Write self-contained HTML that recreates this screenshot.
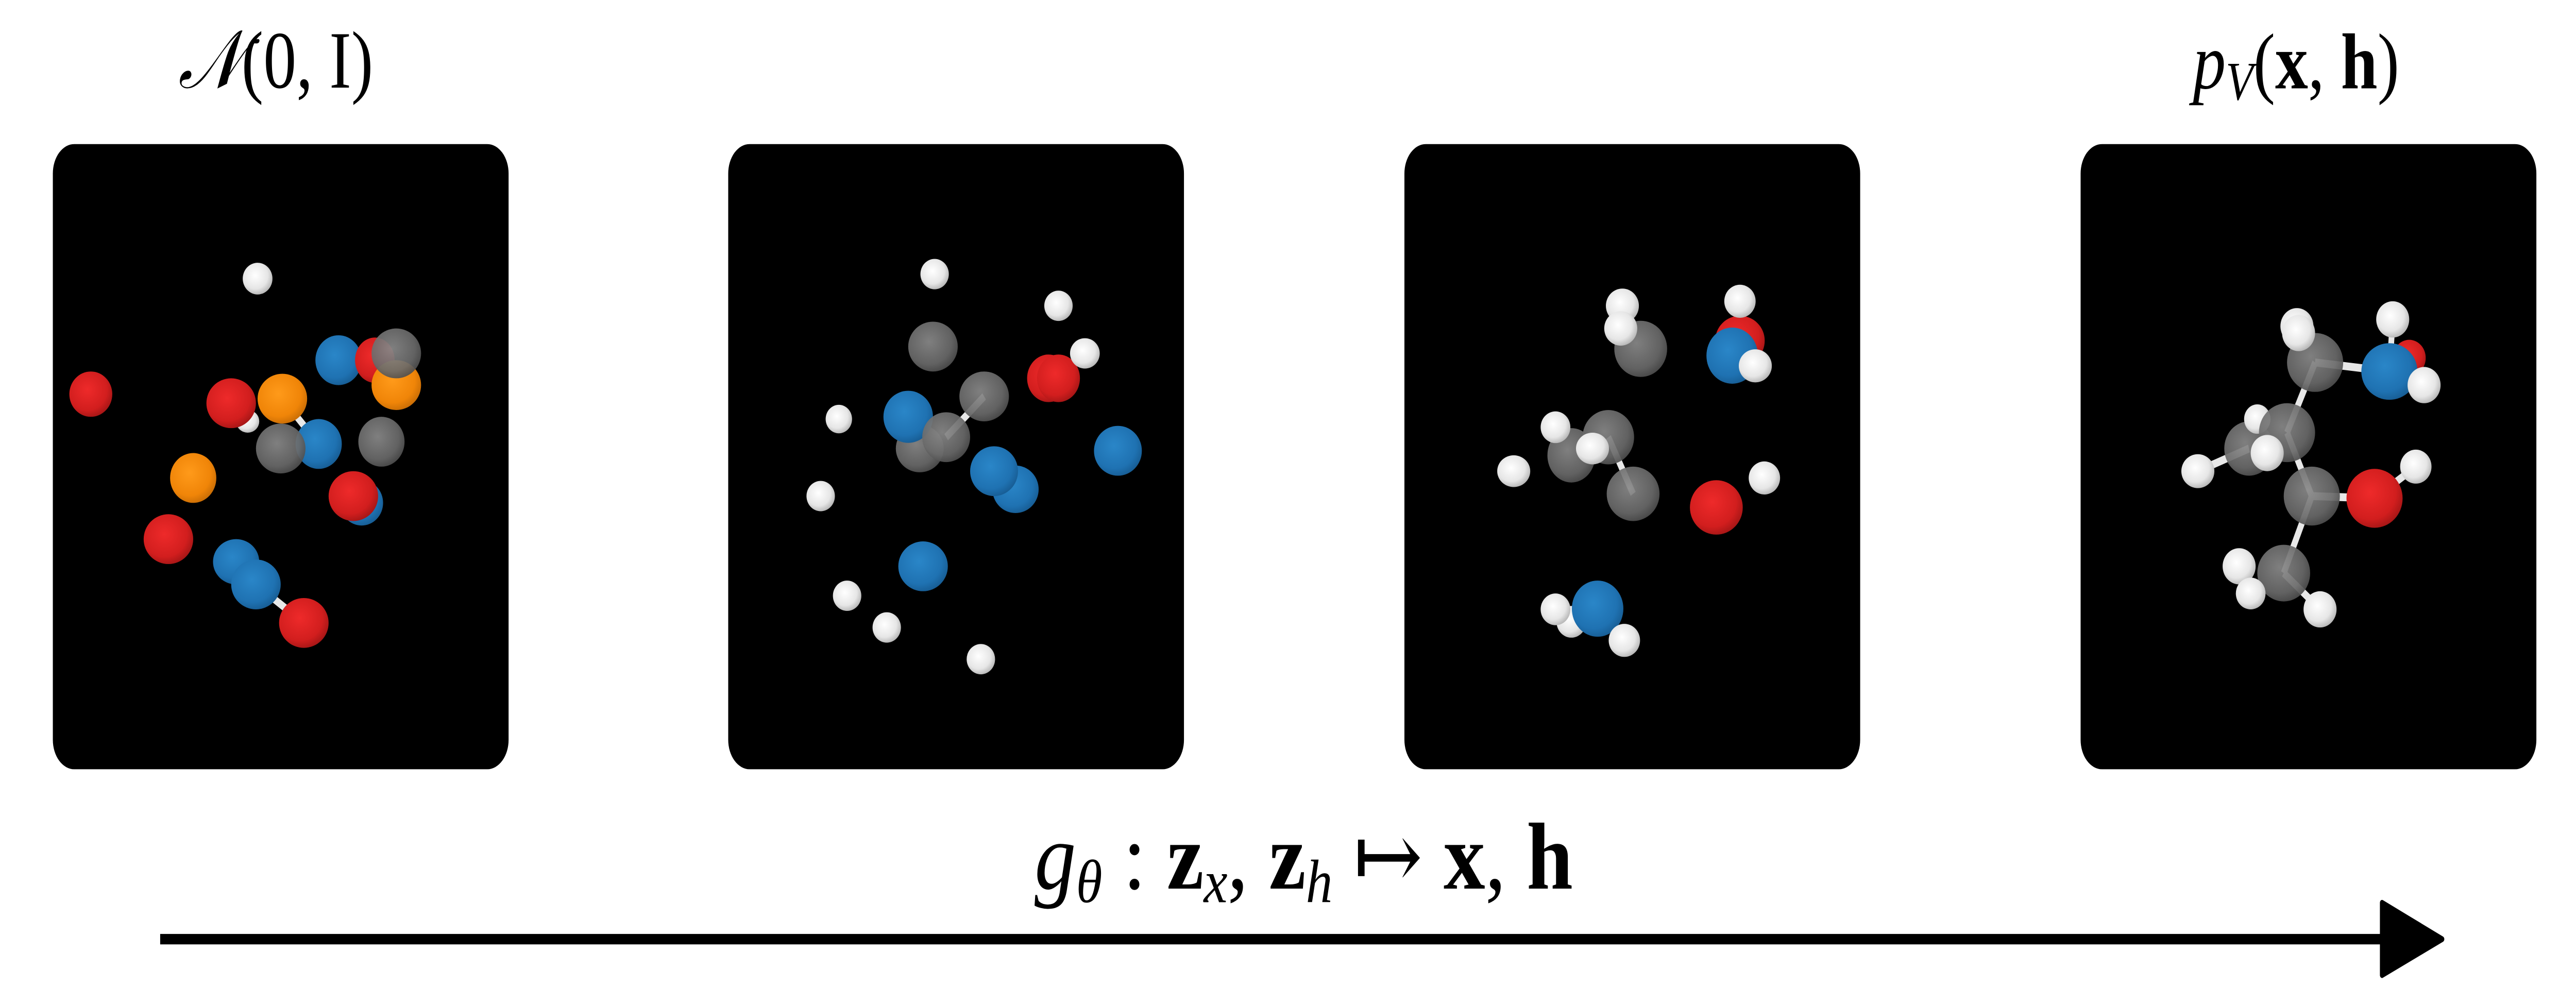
<!DOCTYPE html>
<html><head><meta charset="utf-8">
<style>
html,body{margin:0;padding:0;background:#fff;width:100%;height:100%;overflow:hidden;}
svg{display:block;width:100vw;height:100vh;}
text{font-family:"Liberation Serif","DejaVu Serif",serif;fill:#000;}
</style></head>
<body>
<svg id="fig" viewBox="0 0 1560 436.6" preserveAspectRatio="none" xmlns="http://www.w3.org/2000/svg">
<defs>
<radialGradient id="g-white" cx="0.42" cy="0.4" r="0.65"><stop offset="0" stop-color="#ffffff"/><stop offset="0.65" stop-color="#e6e6e6"/><stop offset="1" stop-color="#b0b0b0"/></radialGradient>
<radialGradient id="g-gray" cx="0.42" cy="0.4" r="0.65"><stop offset="0" stop-color="#8a8a8a"/><stop offset="0.7" stop-color="#6a6a6a"/><stop offset="1" stop-color="#4a4a4a"/></radialGradient>
<radialGradient id="g-red" cx="0.42" cy="0.4" r="0.65"><stop offset="0" stop-color="#ee2a2a"/><stop offset="0.7" stop-color="#d21e1e"/><stop offset="1" stop-color="#a01515"/></radialGradient>
<radialGradient id="g-blue" cx="0.42" cy="0.4" r="0.65"><stop offset="0" stop-color="#2a86c8"/><stop offset="0.7" stop-color="#1f72b2"/><stop offset="1" stop-color="#165a90"/></radialGradient>
<radialGradient id="g-orange" cx="0.42" cy="0.4" r="0.65"><stop offset="0" stop-color="#ff9a1a"/><stop offset="0.7" stop-color="#f08508"/><stop offset="1" stop-color="#c46a05"/></radialGradient>
</defs>
<text x="108" y="38.7" font-size="36" textLength="118" lengthAdjust="spacingAndGlyphs" font-style="italic">𝒩<tspan font-style="normal">(0, I)</tspan></text>
<text x="1328" y="39" font-size="35" textLength="125" lengthAdjust="spacingAndGlyphs"><tspan font-style="italic">p</tspan><tspan font-style="italic" font-size="24" dy="5">V</tspan><tspan dy="-5">(</tspan><tspan font-weight="bold">x</tspan>, <tspan font-weight="bold">h</tspan>)</text>
<text x="626.5" y="392.3" font-size="42" textLength="326" lengthAdjust="spacingAndGlyphs"><tspan font-style="italic">g</tspan><tspan font-style="italic" font-size="27" dy="6">θ</tspan><tspan dy="-6"> : </tspan><tspan font-weight="bold">z</tspan><tspan font-style="italic" font-size="27" dy="6">x</tspan><tspan dy="-6">, </tspan><tspan font-weight="bold">z</tspan><tspan font-style="italic" font-size="27" dy="6">h</tspan><tspan dy="-6"> ↦ </tspan><tspan font-weight="bold">x</tspan>, <tspan font-weight="bold">h</tspan></text>
<rect x="97" y="412.3" width="1347" height="4.6" fill="#000"/>
<polygon points="1442.5,398.5 1479,414.6 1442.5,430.5" fill="#000" stroke="#000" stroke-width="2.5" stroke-linejoin="round"/>
<g id="panels"></g>
</svg>
<script>
const panelX = [32, 441, 850.5, 1260];
const panelTypes = ["noise", "step-1", "step-2", "molecule"];
const atomsP1 = [["white",156,123,9,7],["red",55,174,13,10],["white",150,186,7,5],["red",140,178,15,11],["orange",171,176,15,11],["blue",205,159,14,11],["red",227,159,12,10],["orange",240,170,15,11],["gray",240,156,15,11],["blue",193,196,14,11],["gray",170,198,15,11],["gray",231,195,14,11],["orange",117,211,14,11],["blue",219,222,13,10],["red",214,219,15,11],["red",102,238,15,11],["blue",143,248,14,10],["blue",155,258,15,11],["red",184,275,15,11]];
const atomsP2 = [["white",566,121,8.6,6.7],["white",641,135,8.6,6.7],["gray",565,153,15,11],["red",635,167,13,10.5],["red",641,167,13,10.5],["white",657,156,9,6.7],["white",508,185,8,6.3],["gray",557,198,14.5,10.5],["blue",550,184,15,11.5],["gray",573,193,14.5,11],["gray",596,175,15,11],["blue",615,216,14,10.5],["blue",602,208,14.5,11],["blue",677,199,14.5,11],["white",497,219,8.6,6.7],["blue",559,250,15,11],["white",513,263,8.6,6.7],["white",537,277,8.6,6.7],["white",594,291,8.6,6.7]];
const atomsP3 = [["gray",993.6,154,16,12.4],["white",982.5,135,10,7.6],["white",981.5,145,10,7.6],["red",1053.7,150.4,15,11],["blue",1049,157,15.6,12.4],["white",1053.7,133,9.5,7.3],["white",1063,161.5,10,7.3],["gray",974,193,15.6,12],["gray",951.6,201,14.5,12],["white",942,188.6,9,7],["gray",989,218,16,12],["white",964.4,198,10,7],["white",916.7,208,10,7],["red",1039.4,224,16,12],["white",1068.5,211,9.5,7.3],["white",951.6,274.5,9,7],["white",942,269,9,7],["blue",967.5,268.7,15.6,12.4],["white",983.7,282.7,9.5,7.3]];
const atomsP4 = [["gray",1402,160,17,13],["white",1391,144,10,8],["white",1392,147,10,8],["red",1459,158,10,8],["blue",1447,164,17,12.5],["white",1449,141,10,8],["white",1468,170,10,8],["gray",1362,198,15,12],["white",1367,185,8,6.5],["gray",1385,191,17,13],["white",1331,208,10,7.5],["white",1373,200,10,8],["gray",1400,219,17,13],["red",1438,220,17,13],["white",1463,206,9.5,7.5],["gray",1383,253,16,12.5],["white",1356,250,10,8],["white",1363,262,9,7],["white",1405,269,10,8]];
const bonds = [[1402,160,1447,164],[1402,160,1385,191],[1385,191,1400,219],[1400,219,1438,220],[1438,220,1463,206],[1400,219,1383,253],[1383,253,1405,269],[1362,198,1331,208],[1447,164,1449,141],[596,175,573,193],[974,193,989,218],[171,176,193,196],[155,258,184,275]];
const allAtoms = [atomsP1, atomsP2, atomsP3, atomsP4];
const NS = "http://www.w3.org/2000/svg";
const root = document.getElementById("panels");
panelX.forEach((px, i) => {
  const g = document.createElementNS(NS, "g");
  
  
  const r = document.createElementNS(NS, "rect");
  r.setAttribute("x", px); r.setAttribute("y", 63.6);
  r.setAttribute("width", 276); r.setAttribute("height", 276);
  r.setAttribute("rx", 13); r.setAttribute("fill", "#000");
  
  
  g.appendChild(r);
  bonds.forEach(b => {
    if (b[0] >= px && b[0] <= px + 276) {
      const l = document.createElementNS(NS, "line");
      l.setAttribute("x1", b[0]); l.setAttribute("y1", b[1]);
      l.setAttribute("x2", b[2]); l.setAttribute("y2", b[3]);
      l.setAttribute("stroke", "#e8e8e8"); l.setAttribute("stroke-width", 3.5);
      
      
      g.appendChild(l);
    }
  });
  allAtoms[i].forEach(a => {
    const c = document.createElementNS(NS, "ellipse");
    c.setAttribute("cx", a[1]); c.setAttribute("cy", a[2]);
    c.setAttribute("rx", a[3]); c.setAttribute("ry", a[4]);
    c.setAttribute("fill", "url(#g-" + a[0] + ")");
    c.setAttribute("fill-opacity", a[0] === "gray" ? 0.92 : 1);
    
    
    g.appendChild(c);
  });
  root.appendChild(g);
});
</script>
</body></html>
